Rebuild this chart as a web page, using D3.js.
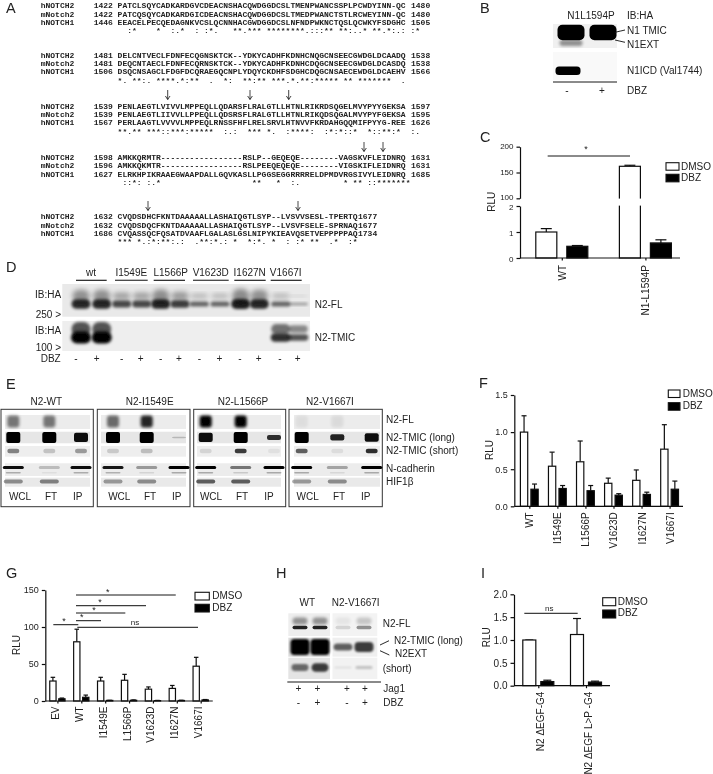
<!DOCTYPE html>
<html lang="en">
<head>
  <meta charset="UTF-8">
  <title>NOTCH2 mutants figure</title>
  <script src="https://d3js.org/d3.v7.min.js"></script>
  <style>
    body { margin: 0; background: #fff; }
    svg { display: block; }
    text { font-family: "Liberation Sans", Arial, sans-serif; font-size: 10px; fill: #222; }
    .seq { font-family: "Liberation Mono", monospace; font-size: 8px; font-weight: bold; white-space: pre; }
    .panel { font-size: 14.5px; }
    .axis path, .axis line { stroke: #111; stroke-width: 1.2; }
    .axis text { font-family: "Liberation Sans", Arial, sans-serif; font-size: 9.5px; fill: #222; }
  </style>
</head>
<body>
  <svg id="fig" width="713" height="774"></svg>

  <script>
    // --- panel A alignment ---
    const seqNames = ["hNOTCH2", "mNotch2", "hNOTCH1"];
    const alignStart = [[1422, 1422, 1446], [1481, 1481, 1506], [1539, 1539, 1567], [1598, 1596, 1627], [1632, 1632, 1686]];
    const alignEnd = [[1480, 1480, 1505], [1538, 1538, 1566], [1597, 1595, 1626], [1631, 1631, 1685], [1677, 1677, 1734]];
    const alignSeq = [
      ["PATCLSQYCADKARDGVCDEACNSHACQWDGGDCSLTMENPWANCSSPLPCWDYINN-QC",
       "PATCQSQYCADKARDGICDEACNSHACQWDGGDCSLTMEDPWANCTSTLRCWEYINN-QC",
       "EEACELPECQEDAGNKVCSLQCNNHACGWDGGDCSLNFNDPWKNCTQSLQCWKYFSDGHC"],
      ["DELCNTVECLFDNFECQGNSKTCK--YDKYCADHFKDNHCNQGCNSEECGWDGLDCAADQ",
       "DEQCNTAECLFDNFECQRNSKTCK--YDKYCADHFKDNHCDQGCNSEECGWDGLDCASDQ",
       "DSQCNSAGCLFDGFDCQRAEGQCNPLYDQYCKDHFSDGHCDQGCNSAECEWDGLDCAEHV"],
      ["PENLAEGTLVIVVLMPPEQLLQDARSFLRALGTLLHTNLRIKRDSQGELMVYPYYGEKSA",
       "PENLAEGTLIIVVLLPPEQLLQDSRSFLRALGTLLHTNLRIKQDSQGALMVYPYFGEKSA",
       "PERLAAGTLVVVVLMPPEQLRNSSFHFLRELSRVLHTNVVFKRDAHGQQMIFPYYG-REE"],
      ["AMKKQRMTR-----------------RSLP--GEQEQE--------VAGSKVFLEIDNRQ",
       "AMKKQKMTR-----------------RSLPEEQEQEQE--------VIGSKIFLEIDNRQ",
       "ELRKHPIKRAAEGWAAPDALLGQVKASLLPGGSEGGRRRRELDPMDVRGSIVYLEIDNRQ"],
      ["CVQDSDHCFKNTDAAAAALLASHAIQGTLSYP--LVSVVSESL-TPERTQ",
       "CVQDSDQCFKNTDAAAAALLASHAIQGTLSYP--LVSVFSELE-SPRNAQ",
       "CVQASSQCFQSATDVAAFLGALASLGSLNIPYKIEAVQSETVEPPPPPAQ"]
    ];
    const alignCons = [
      "  :*    *  :.*  : :*.   **.*** ********.:::** **:..* **.*:.: :*",
      "*. **:. ****.*:**  .  *:  **:** ***.*.**:***** ** *******  .",
      "**.** ***::***:*****  :.:  *** *.  :****:  :*:*::*  *::**:*  :.",
      " ::*: :.*                   **   *  :.         * ** ::*******",
      "*** *.:*:**:.:  .**:*.: *  *:*. *  : :* **  .*  :*"
    ];

    // --- bar chart data ---
    const series = ["DMSO", "DBZ"];

    const cCats = ["WT", "N1-L1594P"];
    const cDmso = [1.0, 162];
    const cDmsoTop = [1.13, 164];
    const cDbz = [0.45, 0.58];
    const cDbzTop = [0.48, 0.7];

    const mutants = ["WT", "I1549E", "L1566P", "V1623D", "I1627N", "V1667I"];
    const fDmso = [1.0, 0.54, 0.6, 0.31, 0.35, 0.77];
    const fDmsoTop = [1.22, 0.73, 0.88, 0.38, 0.49, 1.1];
    const fDbz = [0.23, 0.24, 0.21, 0.15, 0.16, 0.23];
    const fDbzTop = [0.3, 0.28, 0.28, 0.17, 0.19, 0.34];

    const gCats = ["EV", "WT", "I1549E", "L1566P", "V1623D", "I1627N", "V1667I"];
    const gDmso = [27, 80, 27, 28, 16, 17, 47];
    const gDmsoTop = [32, 97, 32, 36, 19, 21, 59];
    const gDbz = [3, 5, 0.8, 1, 0.5, 0.7, 1.5];
    const gDbzTop = [4, 8, 1, 1.5, 0.8, 1, 2];

    const iCats = ["N2 ΔEGF-G4", "N2 ΔEGF L>P -G4"];
    const iDmso = [1.0, 1.12];
    const iDmsoTop = [1.0, 1.47];
    const iDbz = [0.09, 0.08];
    const iDbzTop = [0.12, 0.1];

    // --- blot band strengths (0-1), one per lane ---
    const dGroups = ["wt", "I1549E", "L1566P", "V1623D", "I1627N", "V1667I"];
    const dFull = [0.9, 0.9, 0.75, 0.75, 0.92, 0.8, 0.62, 0.62, 0.95, 0.9, 0.62, 0.4];
    const dTmic = [1, 1, 0, 0, 0, 0, 0, 0, 0, 0, 0.8, 0.65];
    const dbzSigns = ["-", "+", "-", "+", "-", "+", "-", "+", "-", "+", "-", "+"];

    const eTitles = ["N2-WT", "N2-I1549E", "N2-L1566P", "N2-V1667I"];
    const eLanes = ["WCL", "FT", "IP"];
    const eRowNames = ["N2-FL", "N2-TMIC (long)", "N2-TMIC (short)", "N-cadherin", "HIF1β"];
    const eFull = [[0.5, 0.5, 0], [0.55, 0.85, 0], [1, 1, 0], [0.06, 0.07, 0]];
    const eLong = [[1, 1, 0.95], [1, 1, 0.2], [0.95, 1, 0.8], [1, 0.85, 0.93]];
    const eShort = [[0.45, 0.18, 0.35], [0.15, 0.2, 0], [0.1, 0.75, 0.05], [0.6, 0.07, 0.8]];
    const eCad = [[0.95, 0.2, 0.95], [0.9, 0.35, 1], [1, 0.5, 1], [1, 0.3, 1]];
    const eHif = [[0.4, 0.45, 0], [0.35, 0.4, 0], [0.6, 0.6, 0], [0.35, 0.4, 0]];

    const hFull = [0.85, 0.85, 0.12, 0.4];
    const hLong = [1, 1, 0.6, 0.75];
    const hShort = [0.55, 0.75, 0.1, 0.2];
    const hJag = ["+", "+", "+", "+"];
    const hDbz = ["-", "+", "-", "+"];

    const svg = d3.select("#fig");
    const defs = svg.append("defs");
    [["b05", 0.5], ["b1", 1], ["b15", 1.5], ["b25", 2.5]].forEach(([id, sd]) => {
      defs.append("filter").attr("id", id)
        .attr("x", "-40%").attr("y", "-60%").attr("width", "180%").attr("height", "220%")
        .append("feGaussianBlur").attr("stdDeviation", sd);
    });
    // the source picture is a soft scan, so everything gets a faint blur
    defs.append("filter").attr("id", "soft")
      .attr("filterUnits", "userSpaceOnUse")
      .attr("x", 0).attr("y", 0).attr("width", 713).attr("height", 774)
      .append("feGaussianBlur").attr("stdDeviation", 0.3);

    const root = svg.append("g").attr("filter", "url(#soft)");

    function label(g, x, y, str, anchor, cls) {
      return g.append("text").attr("x", x).attr("y", y)
        .attr("text-anchor", anchor || "start")
        .attr("class", cls || null)
        .text(str);
    }

    function rule(g, x1, y1, x2, y2, w) {
      return g.append("line").attr("x1", x1).attr("y1", y1).attr("x2", x2).attr("y2", y2)
        .attr("stroke", "#111").attr("stroke-width", w || 1.1);
    }

    [["A", 6, 13.2], ["B", 480, 13.2], ["C", 480, 142], ["D", 6, 272], ["E", 6, 389],
     ["F", 479, 388], ["G", 6, 578], ["H", 276, 578], ["I", 481, 578]].forEach(p => {
      label(root, p[1], p[2], p[0], "start", "panel");
    });

    // ---------- A ----------
    const gA = root.append("g");
    const blockY = [8.3, 57.6, 108.6, 160, 219.3];
    const rowStep = 8.33;
    alignSeq.forEach((block, b) => {
      block.forEach((s, r) => {
        const y = blockY[b] + r * rowStep;
        label(gA, 40.7, y, seqNames[r], "start", "seq");
        label(gA, 93.7, y, alignStart[b][r], "start", "seq");
        label(gA, 117.6, y, s, "start", "seq");
        label(gA, b === 4 ? 358 : 411, y, alignEnd[b][r], "start", "seq");
      });
      label(gA, 117.6, blockY[b] + 3 * rowStep, alignCons[b], "start", "seq");
    });
    function arrow(x, y1, y2) {
      rule(gA, x, y1, x, y2, 0.8);
      gA.append("path").attr("d", d3.line()([[x - 2.3, y2 - 3.5], [x, y2], [x + 2.3, y2 - 3.5]]))
        .attr("fill", "none").attr("stroke", "#111").attr("stroke-width", 0.8);
    }
    [[167.7, 90], [250, 90], [288.7, 90], [364, 142], [383, 142], [148, 201], [298, 201]].forEach(a => {
      arrow(a[0], a[1], a[1] + 9.5);
    });

    // ---------- blot helpers ----------
    function strip(g, x, y, w, h, fill) {
      g.append("rect").attr("x", x).attr("y", y).attr("width", w).attr("height", h).attr("fill", fill);
    }
    // o.hp: stronger lanes get a taller band
    function bands(g, xs, values, o) {
      const bh = d => o.hp ? Math.max(1.5, o.h * Math.pow(d.v, o.hp)) : o.h;
      g.selectAll(null).data(values.map((v, i) => ({ v, x: xs[i] })).filter(d => d.v > 0))
        .join("rect")
        .attr("x", d => d.x - o.w / 2)
        .attr("y", d => o.y - bh(d) / 2)
        .attr("width", o.w)
        .attr("height", bh)
        .attr("rx", d => o.rx === undefined ? bh(d) / 2 : o.rx)
        .attr("fill", "#000")
        .attr("opacity", d => Math.min(1, d.v * (o.k || 1)))
        .attr("filter", "url(#" + (o.blur || "b1") + ")");
    }

    // ---------- B ----------
    const gB = root.append("g");
    label(gB, 591, 19, "N1L1594P", "middle");
    label(gB, 627, 19, "IB:HA");
    strip(gB, 553, 24, 64, 24, "#f0f0f0");
    strip(gB, 553, 52, 64, 28, "#f9f9f9");
    bands(gB, [571], [0.4], { y: 43, w: 23, h: 6, blur: "b15" });
    bands(gB, [571, 603], [1, 1], { y: 32.5, w: 27, h: 15.5, rx: 5, blur: "b05" });
    bands(gB, [568], [1], { y: 70.7, w: 25, h: 8.5, rx: 3.5, blur: "b05" });
    rule(gB, 553, 82, 617, 82, 1);
    label(gB, 567, 94, "-", "middle");
    label(gB, 602, 94, "+", "middle");
    label(gB, 627, 94, "DBZ");
    label(gB, 627, 34, "N1 TMIC");
    label(gB, 627, 48, "N1EXT");
    label(gB, 627, 74, "N1ICD (Val1744)");
    rule(gB, 615, 32.3, 625, 30, 0.9);
    rule(gB, 615, 40, 625, 42.3, 0.9);

    // ---------- bar chart helpers ----------
    function barGeometry(cats, first, last, step, bw) {
      const x = d3.scalePoint().domain(cats).range([first, last]);
      const inner = d3.scaleBand().domain(series)
        .range([-(step + bw) / 2, (step + bw) / 2])
        .paddingInner(1 - bw / step);
      return { x, inner, bw };
    }

    function drawBars(g, geo, y, cats, dmso, dmsoTop, dbz, dbzTop, capW, lw) {
      const rows = [];
      cats.forEach((c, i) => {
        rows.push({ c, s: "DMSO", v: dmso[i], top: dmsoTop[i] });
        rows.push({ c, s: "DBZ", v: dbz[i], top: dbzTop[i] });
      });
      const cx = d => geo.x(d.c) + geo.inner(d.s) + geo.bw / 2;
      g.selectAll(null).data(rows).join("line")
        .attr("x1", cx).attr("x2", cx)
        .attr("y1", d => y(d.v)).attr("y2", d => y(d.top))
        .attr("stroke", "#111").attr("stroke-width", lw);
      g.selectAll(null).data(rows).join("line")
        .attr("x1", d => cx(d) - capW / 2).attr("x2", d => cx(d) + capW / 2)
        .attr("y1", d => y(d.top)).attr("y2", d => y(d.top))
        .attr("stroke", "#111").attr("stroke-width", lw);
      g.selectAll(null).data(rows).join("rect")
        .attr("x", d => geo.x(d.c) + geo.inner(d.s))
        .attr("y", d => y(d.v))
        .attr("width", geo.bw)
        .attr("height", d => y(0) - y(d.v))
        .attr("fill", d => d.s === "DMSO" ? "#fff" : "#000")
        .attr("stroke", "#111").attr("stroke-width", lw);
    }

    function yAxis(g, x, y, ticks, fmt, size) {
      const a = g.append("g").attr("class", "axis").attr("transform", `translate(${x},0)`)
        .call(d3.axisLeft(y).tickValues(ticks).tickFormat(fmt).tickSize(3.5).tickSizeOuter(0));
      a.selectAll("text").style("font-size", (size || 9.5) + "px");
      return a;
    }

    function xAxis(g, geo, y0, xStart, xEnd, labelDx, labelGap, size) {
      const a = g.append("g").attr("class", "axis").attr("transform", `translate(0,${y0})`)
        .call(d3.axisBottom(geo.x).tickSize(2.5).tickSizeOuter(0));
      a.select(".domain").remove();
      a.selectAll("text")
        .attr("transform", d => `translate(${labelDx},${labelGap}) rotate(-90)`)
        .attr("x", 0).attr("y", 0).attr("dy", "0.35em")
        .attr("text-anchor", "end")
        .style("font-size", (size || 10) + "px");
      rule(g, xStart, y0, xEnd, y0, 1.2);
    }

    function legend(g, x, y1, y2, w, h, tx, b1, b2) {
      g.append("rect").attr("x", x).attr("y", y1).attr("width", w).attr("height", h)
        .attr("fill", "#fff").attr("stroke", "#111").attr("stroke-width", 1.1);
      g.append("rect").attr("x", x).attr("y", y2).attr("width", w).attr("height", h)
        .attr("fill", "#000").attr("stroke", "#111").attr("stroke-width", 1.1);
      label(g, tx, b1, series[0]);
      label(g, tx, b2, series[1]);
    }

    function yTitle(g, x, y) {
      g.append("text").attr("transform", `translate(${x},${y}) rotate(-90)`)
        .attr("text-anchor", "middle").text("RLU");
    }

    function sig(g, x1, x2, y, tx, ty, txt) {
      rule(g, x1, y, x2, y, 1);
      const t = label(g, tx, ty, txt, "middle");
      t.style("font-size", txt === "ns" ? "8px" : "9px");
    }

    // ---------- C (broken axis) ----------
    const gC = root.append("g");
    const cLow = d3.scaleLinear().domain([0, 2]).range([258, 206]);
    const cHigh = d3.scaleLinear().domain([100, 200]).range([198.3, 146.7]);
    const cY = v => v > 2 ? cHigh(v) : cLow(v);
    const cGeo = barGeometry(cCats, 561.8, 645.4, 31, 21);
    drawBars(gC, cGeo, cY, cCats, cDmso, cDmsoTop, cDbz, cDbzTop, 11, 1.2);
    strip(gC, 612, 198.6, 34, 7, "#fff"); // break in the tall bar
    yAxis(gC, 520, cHigh, [100, 150, 200], d3.format("d"), 8)
      .selectAll("text").attr("dy", "0.2em");
    yAxis(gC, 520, cLow, [0, 1, 2], d3.format("d"), 8)
      .selectAll("text").attr("dy", "0.42em");
    xAxis(gC, cGeo, 258, 520, 680, 0, 7, 10);
    yTitle(gC, 495, 201.7);
    sig(gC, 547.7, 630, 156, 586, 152, "*");
    legend(gC, 666, 162.7, 174.3, 13, 7.5, 681, 169.7, 180.9);

    // ---------- D ----------
    const gD = root.append("g");
    const dCenter = [91, 131.3, 170.7, 210.7, 249.7, 285.7];
    const dLineFrom = [76, 115, 153.7, 193, 234.3, 270.7];
    const dLineTo = [106.7, 147.7, 185, 228.7, 265.7, 301.7];
    dGroups.forEach((n, i) => {
      label(gD, dCenter[i], 275.7, n, "middle");
      rule(gD, dLineFrom[i], 280.3, dLineTo[i], 280.3, 1.1);
    });
    const dLaneX = [81, 101.7, 121.7, 141.7, 160.7, 180, 199.3, 220, 240.7, 259.3, 280.7, 298.3];
    strip(gD, 62.3, 284, 247.7, 32.7, "#e9e9e9");
    strip(gD, 62.3, 321, 247.7, 30, "#eeeeee");
    bands(gD, dLaneX, dFull, { y: 296, w: 17, h: 17, k: 0.42, hp: 3, blur: "b25" });
    bands(gD, dLaneX, dFull, { y: 304, w: 19, h: 11, k: 0.92, hp: 1.6, blur: "b15" });
    bands(gD, dLaneX, dTmic, { y: 329, w: 19, h: 14, k: 0.65, hp: 1.5, blur: "b15" });
    bands(gD, dLaneX, dTmic, { y: 337.5, w: 20, h: 12, k: 1, hp: 1.5, blur: "b15" });
    label(gD, 35, 298.3, "IB:HA");
    label(gD, 35.7, 318.3, "250 >");
    label(gD, 35, 334.3, "IB:HA");
    label(gD, 35.7, 351, "100 >");
    label(gD, 40.7, 362.3, "DBZ");
    dbzSigns.forEach((s, i) => label(gD, [76, 96.7, 121.7, 140.7, 160.7, 179, 199.3, 219.3, 240, 258.7, 280, 297.7][i], 362.3, s, "middle"));
    label(gD, 314.7, 308.3, "N2-FL");
    label(gD, 314.7, 341, "N2-TMIC");

    // ---------- E ----------
    const gE = root.append("g");
    const boxX = [1, 97.3, 193.7, 289];
    const boxW = [92.3, 92.7, 92, 93.3];
    const stripX = [5, 101, 197, 294];
    const stripW = [85, 85, 84, 86];
    const titleX = [46.3, 149.7, 243, 330];
    const laneX = [[13.3, 49.3, 81], [113, 146.7, 179], [205.7, 240.7, 274], [301.7, 337.3, 371.7]];
    const laneTextX = [[20, 51, 77.7], [119.3, 150, 176.7], [211, 242, 269], [307.7, 339, 365.7]];
    const rowY = [415, 431.7, 446, 463.3, 477.7];
    const rowH = [14, 11.6, 10.7, 12.7, 9];
    const rowFill = ["#ececec", "#e6e6e6", "#eeeeee", "#ececec", "#e9e9e9"];
    const rowLabelY = [423.3, 441, 454.3, 471.7, 485.3];
    eTitles.forEach((t, b) => {
      label(gE, titleX[b], 405, t, "middle");
      gE.append("rect").attr("x", boxX[b]).attr("y", 409.3).attr("width", boxW[b]).attr("height", 97.4)
        .attr("fill", "#fff").attr("stroke", "#333").attr("stroke-width", 1);
      rowY.forEach((y, r) => strip(gE, stripX[b], y, stripW[b], rowH[r], rowFill[r]));
      bands(gE, laneX[b], eFull[b], { y: 421.5, w: 12, h: 12, rx: 3, blur: "b15" });
      bands(gE, laneX[b], eLong[b], { y: 437.4, w: 14, h: 11, rx: 2, hp: 3.5, blur: "b05" });
      bands(gE, laneX[b], eShort[b], { y: 451, w: 12, h: 4.5, blur: "b05" });
      bands(gE, laneX[b], eCad[b], { y: 467.6, w: 21, h: 3, blur: "b05" });
      bands(gE, laneX[b], eCad[b], { y: 472.8, w: 15, h: 1.6, k: 0.28, blur: "b05" });
      bands(gE, laneX[b], eHif[b], { y: 481.6, w: 19, h: 4, blur: "b05" });
      eLanes.forEach((n, i) => label(gE, laneTextX[b][i], 500, n, "middle"));
    });
    eRowNames.forEach((n, r) => label(gE, 386, rowLabelY[r], n));

    // ---------- F ----------
    const gF = root.append("g");
    const fY = d3.scaleLinear().domain([0, 1.5]).range([506.3, 395]);
    const fGeo = barGeometry(mutants, 529.3, 669.6, 10.5, 7.3);
    drawBars(gF, fGeo, fY, mutants, fDmso, fDmsoTop, fDbz, fDbzTop, 5, 1.2);
    yAxis(gF, 514.3, fY, [0, 0.5, 1, 1.5], d3.format(".1f"), 9);
    xAxis(gF, fGeo, 506.3, 514.3, 683, 0, 6, 10);
    yTitle(gF, 493, 450);
    legend(gF, 668.3, 390, 402.7, 11.7, 7.5, 682.7, 396.9, 408.5);

    // ---------- G ----------
    const gG = root.append("g");
    const gY = d3.scaleLinear().domain([0, 150]).range([701, 590]);
    const gGeo = barGeometry(gCats, 57.4, 200.7, 9, 6.3);
    drawBars(gG, gGeo, gY, gCats, gDmso, gDmsoTop, gDbz, gDbzTop, 4.5, 1.2);
    yAxis(gG, 45.3, gY, [0, 50, 100, 150], d3.format("d"), 9);
    xAxis(gG, gGeo, 701, 45.3, 212.7, -2.5, 5.5, 10);
    yTitle(gG, 19.5, 645);
    sig(gG, 76, 175.7, 595, 107.7, 595, "*");
    sig(gG, 76, 146, 605.7, 100, 605.3, "*");
    sig(gG, 76, 125.3, 613, 94, 613, "*");
    sig(gG, 76, 101, 620.7, 81.7, 620.4, "*");
    sig(gG, 53.3, 78.3, 624.7, 64, 624.4, "*");
    sig(gG, 77.3, 198, 627.3, 135, 625, "ns");
    legend(gG, 195, 592.3, 604.3, 14.3, 7.7, 212.3, 598.5, 610.7);

    // ---------- H ----------
    const gH = root.append("g");
    const hLaneX = [300, 320, 343, 364];
    label(gH, 307.3, 606, "WT", "middle");
    label(gH, 355.7, 606, "N2-V1667I", "middle");
    [[613.3, 22.7, "#eeeeee", "#f3f3f3"], [637.7, 19, "#dedede", "#efefef"], [657.7, 21.3, "#e4e4e4", "#f2f2f2"]].forEach(r => {
      strip(gH, 288.3, r[0], 41.7, r[1], r[2]);
      strip(gH, 332.5, r[0], 44.8, r[1], r[3]);
    });
    bands(gH, hLaneX, hFull, { y: 621, w: 15, h: 7, k: 0.45, blur: "b15" });
    bands(gH, hLaneX, hFull, { y: 627.5, w: 15, h: 3.5, blur: "b05" });
    bands(gH, hLaneX, hLong, { y: 647, w: 19, h: 16, hp: 1.6, rx: 4, blur: "b1" });
    bands(gH, hLaneX, hShort, { y: 667.5, w: 17, h: 11, hp: 0.8, blur: "b1" });
    rule(gH, 287.3, 682, 381, 682, 1.2);
    [298.3, 317.3, 347, 365].forEach((x, i) => {
      label(gH, x, 691.7, hJag[i], "middle");
      label(gH, x, 705.7, hDbz[i], "middle");
    });
    label(gH, 383.3, 691.7, "Jag1");
    label(gH, 383.3, 705.7, "DBZ");
    label(gH, 382.7, 626.7, "N2-FL");
    label(gH, 394, 644.3, "N2-TMIC (long)");
    label(gH, 395, 656.7, "N2EXT");
    label(gH, 382.7, 672, "(short)");
    rule(gH, 380, 645, 389, 640.7, 0.9);
    rule(gH, 380, 650.7, 389.3, 655, 0.9);

    // ---------- I ----------
    const gI = root.append("g");
    const iY = d3.scaleLinear().domain([0, 2]).range([685.7, 594.3]);
    const iGeo = barGeometry(iCats, 538.3, 586, 18, 13);
    drawBars(gI, iGeo, iY, iCats, iDmso, iDmsoTop, iDbz, iDbzTop, 8, 1.2);
    yAxis(gI, 514, iY, [0, 0.5, 1, 1.5, 2], d3.format(".1f"), 10);
    xAxis(gI, iGeo, 685.7, 514, 610, 2, 6, 10);
    yTitle(gI, 490, 637.3);
    sig(gI, 524.3, 577.7, 613.3, 549.3, 611, "ns");
    legend(gI, 602.7, 597.7, 610, 13, 8, 617.7, 604.5, 616.2);
  </script>
</body>
</html>
